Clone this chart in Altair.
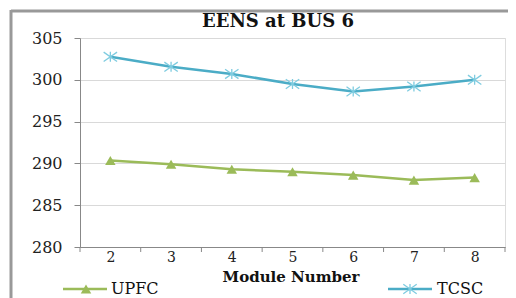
import altair as alt
import pandas as pd

modules = [2, 3, 4, 5, 6, 7, 8]
series_names = ["UPFC", "TCSC"]
upfc = [290.35, 289.9, 289.3, 289.0, 288.6, 288.0, 288.3]
tcsc = [302.75, 301.55, 300.7, 299.5, 298.6, 299.2, 300.0]
y_ticks = [280, 285, 290, 295, 300, 305]
title_text = "EENS at BUS 6"
x_title = "Module Number"

colors = {"UPFC": "#9BBB59", "TCSC": "#4BACC6"}
marker_colors = {"UPFC": "#9BBB59", "TCSC": "#7FCCE0"}
FONT = "DejaVu Serif"
W, H = 425, 209

df = pd.DataFrame({
    "module": modules * 2,
    "value": upfc + tcsc,
    "series": [series_names[0]] * len(modules) + [series_names[1]] * len(modules),
})
bounds = pd.DataFrame({"b": [m - 0.5 for m in modules] + [modules[-1] + 0.5]})

xscale = alt.Scale(domain=[modules[0] - 0.5, modules[-1] + 0.5], nice=False, zero=False)
yscale = alt.Scale(domain=[y_ticks[0], y_ticks[-1]], nice=False, zero=False)
cscale = alt.Scale(domain=series_names, range=[colors[s] for s in series_names])

lines = alt.Chart(df).mark_line(strokeWidth=2.5).encode(
    x=alt.X("module:Q", scale=xscale,
            axis=alt.Axis(values=modules, ticks=False, grid=False, title=None,
                          domainColor="#888", labelFont=FONT, labelFontSize=14,
                          labelColor="#222", labelPadding=3, format="d")),
    y=alt.Y("value:Q", scale=yscale,
            axis=alt.Axis(values=y_ticks, grid=True, gridColor="#d9d9d9", title=None,
                          tickColor="#888", tickSize=6, domainColor="#888",
                          labelFont=FONT, labelFontSize=16, labelColor="#222",
                          labelPadding=12)),
    color=alt.Color("series:N", scale=cscale, legend=None),
    detail="series:N",
)

star = "M-1,-0.7L1,0.7M-1,0.7L1,-0.7M0,-0.75L0,0.75"

pts_u = alt.Chart(df[df.series == "UPFC"]).mark_point(
    shape="triangle-up", filled=True, size=110, color=marker_colors["UPFC"], opacity=1
).encode(x=alt.X("module:Q", scale=xscale), y=alt.Y("value:Q", scale=yscale))

pts_t = alt.Chart(df[df.series == "TCSC"]).mark_point(
    shape=star, filled=False, size=180, color=marker_colors["TCSC"], strokeWidth=1.3, opacity=1
).encode(x=alt.X("module:Q", scale=xscale), y=alt.Y("value:Q", scale=yscale))

xticks = alt.Chart(bounds).mark_rule(color="#888", strokeWidth=1).encode(
    x=alt.X("b:Q", scale=xscale), y=alt.value(H), y2=alt.value(H + 5)
)

one = pd.DataFrame({"a": [0]})

title = alt.Chart(one).mark_text(
    text=title_text, font=FONT, fontSize=18, fontWeight="bold", color="#111",
    align="center", baseline="middle"
).encode(x=alt.value(198), y=alt.value(-16))

xtitle = alt.Chart(one).mark_text(
    text=x_title, font=FONT, fontSize=15, fontWeight="bold", color="#111",
    align="center", baseline="middle"
).encode(x=alt.value(211), y=alt.value(239))

LY = 251
leg_layers = []
for name, x0, x1, xm, xt, shape, size, filled in [
    (series_names[0], -17, 27, 6, 31, "triangle-up", 110, True),
    (series_names[1], 308, 352, 330, 357, star, 180, False),
]:
    leg_layers.append(alt.Chart(one).mark_rule(color=colors[name], strokeWidth=2.5).encode(
        x=alt.value(x0), x2=alt.value(x1), y=alt.value(LY)))
    leg_layers.append(alt.Chart(one).mark_point(
        shape=shape, size=size, filled=filled, color=marker_colors[name], opacity=1,
        strokeWidth=1.3).encode(x=alt.value(xm), y=alt.value(LY)))
    leg_layers.append(alt.Chart(one).mark_text(
        text=name, font=FONT, fontSize=16, color="#111", align="left", baseline="middle"
    ).encode(x=alt.value(xt), y=alt.value(LY)))

frame_left = alt.Chart(one).mark_rule(color="#999", strokeWidth=3).encode(
    x=alt.value(-69), y=alt.value(-28), y2=alt.value(270))
frame_top = alt.Chart(one).mark_rule(color="#999", strokeWidth=3).encode(
    y=alt.value(-27), x=alt.value(-69), x2=alt.value(430))

chart = alt.layer(
    lines, pts_u, pts_t, xticks, title, xtitle, *leg_layers, frame_left, frame_top
).properties(
    width=W, height=H,
    autosize=alt.AutoSizeParams(type="none"),
    padding={"left": 72, "top": 30, "right": 3, "bottom": 51},
).configure_view(stroke=None).configure(background="white")

chart.save("out.html", embed_options={"renderer": "svg", "actions": False})
